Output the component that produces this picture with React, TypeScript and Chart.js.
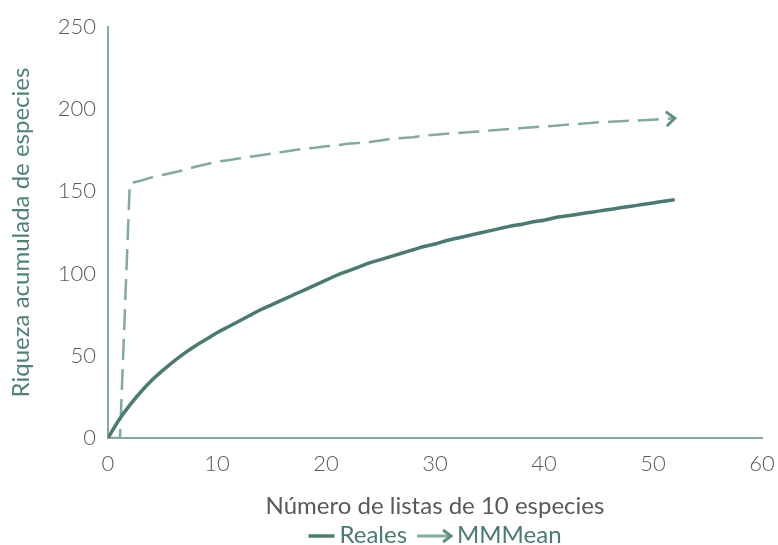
import React, { useEffect, useRef } from "react";
import { Chart, registerables } from "chart.js";

Chart.register(...registerables);

// ---- Data ----
const realesX = [0, 1, 2, 3, 4, 5, 6, 7, 8, 9, 10, 11, 12, 13, 14, 15, 16, 17, 18, 19, 20, 21, 22, 23, 24, 25, 26, 27, 28, 29, 30, 31, 32, 33, 34, 35, 36, 37, 38, 39, 40, 41, 42, 43, 44, 45, 46, 47, 48, 49, 50, 51, 52];
const realesY = [0, 11, 20, 28, 35, 41, 46.5, 51.5, 56, 60, 64, 67.5, 71, 74.5, 78, 81, 84, 87, 90, 93, 96, 99, 101.5, 104, 106.5, 108.5, 110.5, 112.5, 114.5, 116.5, 118, 120, 121.5, 123, 124.5, 126, 127.5, 129, 130, 131.5, 132.5, 134, 135, 136, 137, 138, 139, 140, 141, 142, 143, 144, 145];

const mmX = [0, 1.1, 2, 3, 4, 5, 6, 7, 8, 9, 10, 11, 12, 13, 14, 15, 16, 17, 18, 19, 20, 21, 22, 23, 24, 25, 26, 27, 28, 29, 30, 31, 32, 33, 34, 35, 36, 37, 38, 39, 40, 41, 42, 43, 44, 45, 46, 47, 48, 49, 50, 51, 52];
const mmY = [0, 0, 155, 156.5, 158.5, 160, 161.5, 163, 165, 166.5, 168, 169, 170, 171, 172, 173, 174, 175, 176, 176.5, 177.5, 178, 179, 179.5, 180, 181, 182, 182.5, 183, 184, 184.5, 185, 185.5, 186, 186.5, 187, 187.5, 188, 188.5, 189, 189.5, 190, 190.5, 191, 191.5, 192, 192.3, 192.6, 193, 193.3, 193.6, 194, 194.5];

const seriesNames = ["Reales", "MMMean"];
const xTitle = "Número de listas de 10 especies";
const yTitle = "Riqueza acumulada de especies";
const xRange = [0, 60, 10];
const yRange = [0, 250, 50];

// ---- Styles ----
const REALES_COLOR = "#4a7b72";
const MM_COLOR = "#82a9a2";
const AXIS_COLOR = "#86a8a2";
const TICK_COLOR = "#595959";
const FONT = "Lato";

const arrowPlugin = {
  id: "mmArrow",
  afterDatasetsDraw(chart: any) {
    const meta = chart.getDatasetMeta(1);
    const pts = meta.data;
    if (!pts || pts.length < 2) return;
    const a = pts[pts.length - 2];
    const b = pts[pts.length - 1];
    const ang = Math.atan2(b.y - a.y, b.x - a.x);
    const ctx = chart.ctx;
    ctx.save();
    ctx.strokeStyle = "#5f8f87";
    ctx.lineWidth = 3;
    ctx.lineCap = "round";
    ctx.lineJoin = "miter";
    const L = 10;
    ctx.beginPath();
    ctx.moveTo(b.x - L * Math.cos(ang - 0.7), b.y - L * Math.sin(ang - 0.7));
    ctx.lineTo(b.x, b.y);
    ctx.lineTo(b.x - L * Math.cos(ang + 0.7), b.y - L * Math.sin(ang + 0.7));
    ctx.stroke();
    ctx.restore();
  },
};

const legendPlugin = {
  id: "customLegend",
  afterDraw(chart: any) {
    const ctx = chart.ctx;
    const area = chart.chartArea;
    ctx.save();
    ctx.font = `24px ${FONT}`;
    ctx.textBaseline = "middle";
    const sample = 26;
    const gap = 5;
    const itemGap = 10;
    const w0 = ctx.measureText(seriesNames[0]).width;
    const w1 = ctx.measureText(seriesNames[1]).width;
    const total = sample + gap + w0 + itemGap + 35 + gap + w1;
    let x = (area.left + area.right) / 2 - total / 2;
    const y = chart.height - 10;
    // Reales
    ctx.strokeStyle = REALES_COLOR;
    ctx.lineWidth = 3.5;
    ctx.beginPath();
    ctx.moveTo(x, y + 1);
    ctx.lineTo(x + sample, y + 1);
    ctx.stroke();
    x += sample + gap;
    ctx.fillStyle = REALES_COLOR;
    ctx.fillText(seriesNames[0], x, y);
    x += w0 + itemGap;
    // MMMean arrow
    ctx.strokeStyle = MM_COLOR;
    ctx.lineWidth = 3;
    ctx.beginPath();
    ctx.moveTo(x, y + 1);
    ctx.lineTo(x + 33, y + 1);
    ctx.stroke();
    ctx.strokeStyle = "#5f8f87";
    ctx.beginPath();
    ctx.moveTo(x + 26, y - 5);
    ctx.lineTo(x + 34, y + 1);
    ctx.lineTo(x + 26, y + 7);
    ctx.stroke();
    x += 35 + gap;
    ctx.fillStyle = REALES_COLOR;
    ctx.fillText(seriesNames[1], x, y);
    ctx.restore();
  },
};

export default function App() {
  const ref = useRef<HTMLCanvasElement | null>(null);

  useEffect(() => {
    if (!ref.current) return;
    const chart = new Chart(ref.current, {
      type: "line",
      data: {
        datasets: [
          {
            label: seriesNames[0],
            data: realesX.map((x, i) => ({ x, y: realesY[i] })),
            borderColor: REALES_COLOR,
            borderWidth: 3.5,
            pointRadius: 0,
            cubicInterpolationMode: "monotone",
            fill: false,
          },
          {
            label: seriesNames[1],
            data: mmX.map((x, i) => ({ x, y: mmY[i] })),
            borderColor: MM_COLOR,
            borderWidth: 2.5,
            borderDash: [21, 9],
            pointRadius: 0,
            tension: 0,
            fill: false,
          },
        ],
      },
      options: {
        responsive: false,
        animation: false,
        layout: { padding: { left: 0, right: 16, top: 27, bottom: 0 } },
        plugins: {
          legend: { display: false },
          tooltip: { enabled: false },
        },
        scales: {
          x: {
            type: "linear",
            min: xRange[0],
            max: xRange[1],
            grid: { display: false, drawTicks: false },
            border: { display: true, color: AXIS_COLOR, width: 2 },
            ticks: {
              stepSize: xRange[2],
              padding: 13,
              color: TICK_COLOR,
              font: { family: FONT, size: 22, weight: "300" },
            },
            title: {
              display: true,
              text: xTitle,
              color: TICK_COLOR,
              font: { family: FONT, size: 24 },
              padding: { top: 0, bottom: 24 },
            },
            afterFit: (s: any) => {
              s.height = 107;
              s.paddingLeft = 0;
              s.paddingRight = 0;
            },
          },
          y: {
            type: "linear",
            min: yRange[0],
            max: yRange[1],
            grid: { display: false, drawTicks: false },
            border: { display: true, color: AXIS_COLOR, width: 2 },
            ticks: {
              stepSize: yRange[2],
              padding: 12,
              color: TICK_COLOR,
              font: { family: FONT, size: 22, weight: "300" },
            },
            title: {
              display: true,
              text: yTitle,
              color: "#4e8279",
              font: { family: FONT, size: 24 },
              padding: { top: 7, bottom: 0 },
            },
            afterFit: (s: any) => {
              s.width = 108;
              s.paddingTop = 0;
              s.paddingBottom = 0;
            },
          },
        },
      },
      plugins: [arrowPlugin, legendPlugin],
    });
    return () => chart.destroy();
  }, []);

  return (
    <div style={{ position: "absolute", left: 0, top: 0, width: 778, height: 545, background: "#fff" }}>
      <canvas ref={ref} width={778} height={545} style={{ display: "block" }} />
    </div>
  );
}
